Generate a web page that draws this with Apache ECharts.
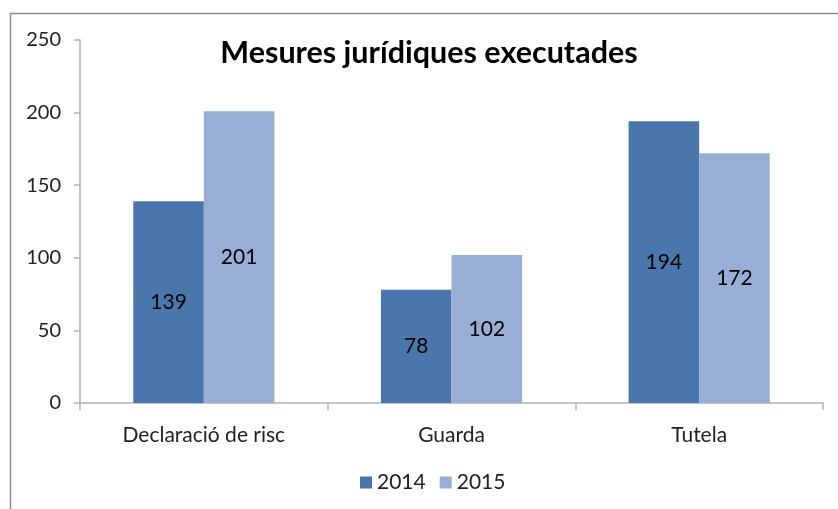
<!DOCTYPE html>
<html>
<head>
<meta charset="utf-8">
<script src="https://cdn.jsdelivr.net/npm/echarts@6/dist/echarts.min.js"></script>
<style>html,body{margin:0;padding:0;background:#fff}#c{width:838px;height:509px}</style>
</head>
<body>
<div id="c"></div>
<script>
const categories = ['Declaració de risc', 'Guarda', 'Tutela'];
const values2014 = [139, 78, 194];
const values2015 = [201, 102, 172];
const yTicks = [0, 50, 100, 150, 200, 250];

const chart = echarts.init(document.getElementById('c'), null, {renderer: 'canvas'});
const font = 'Lato, "Open Sans", sans-serif';
const axisColor = '#B3B3B3';
chart.setOption({
  animation: false,
  backgroundColor: '#ffffff',
  graphic: [{
    type: 'rect',
    shape: {x: 10.5, y: 13.5, width: 900, height: 600},
    style: {fill: 'none', stroke: '#8C8C8C', lineWidth: 1.5},
    silent: true
  }],
  title: {
    text: 'Mesures jurídiques executades',
    left: 424, top: 33, textAlign: 'center',
    textStyle: {fontFamily: font, fontSize: 30.5, fontWeight: 'bold', color: '#000'}
  },
  legend: {
    data: ['2014', '2015'],
    top: 467, left: 355,
    itemWidth: 12, itemHeight: 12, itemGap: 14,
    icon: 'rect',
    textStyle: {fontFamily: font, fontSize: 21, color: '#222'}
  },
  grid: {left: 80, right: 15, top: 40, bottom: 106, containLabel: false},
  xAxis: {
    type: 'category',
    data: categories,
    axisLine: {lineStyle: {color: axisColor, width: 1.5}},
    axisTick: {show: true, length: 7, lineStyle: {color: axisColor, width: 1.5}},
    axisLabel: {fontFamily: font, fontSize: 21, color: '#222', margin: 22}
  },
  yAxis: {
    type: 'value',
    min: yTicks[0], max: yTicks[yTicks.length - 1], interval: 50,
    splitLine: {show: false},
    axisLine: {show: true, lineStyle: {color: axisColor, width: 1.5}},
    axisTick: {show: true, length: 6, lineStyle: {color: axisColor, width: 1.5}},
    axisLabel: {fontFamily: font, fontSize: 20, color: '#222', margin: 19}
  },
  series: [{
    name: '2014', type: 'bar', data: values2014,
    barGap: '0%', barCategoryGap: '43%',
    itemStyle: {color: '#4977AB'},
    label: {show: true, position: 'inside', fontFamily: font, fontSize: 21, color: '#000'}
  }, {
    name: '2015', type: 'bar', data: values2015,
    itemStyle: {color: '#98AED5'},
    label: {show: true, position: 'inside', fontFamily: font, fontSize: 21, color: '#000'}
  }]
});
</script>
</body>
</html>
